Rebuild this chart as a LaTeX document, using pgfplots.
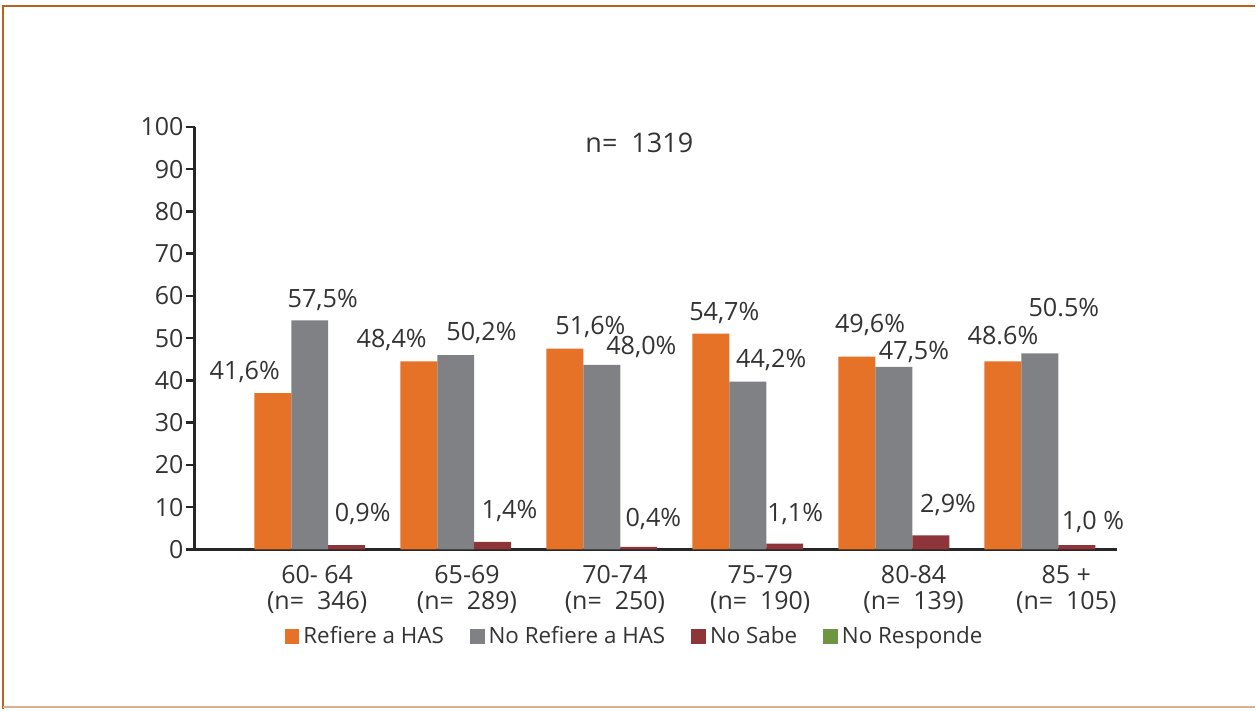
\documentclass[border=0pt]{standalone}
\usepackage{pgfplots}
\pgfplotsset{compat=1.18}
\usepackage{fontspec}
\setmainfont{Open Sans}
\definecolor{cOr}{HTML}{E57226}
\definecolor{cGr}{HTML}{808184}
\definecolor{cRd}{HTML}{8E353A}
\definecolor{cGn}{HTML}{6E9642}
\definecolor{frameC}{HTML}{B5631F}
\definecolor{txt}{HTML}{333333}
\pgfplotsset{sqleg/.style={legend image code/.code={\fill[##1] (0pt,-3.7pt) rectangle (7.4pt,3.7pt);}}}
\begin{document}
\begin{tikzpicture}
\path (0,0) rectangle (628pt,-355pt);
\draw[frameC, line width=1.3pt] (1.6pt,-355pt) -- (1.6pt,-3pt) -- (628pt,-3pt);
\draw[frameC!50, line width=0.8pt] (1.6pt,-354pt) -- (628pt,-354pt);
\begin{axis}[
  at={(97.5pt,-275pt)}, anchor=south west,
  scale only axis, width=461.5pt, height=211.5pt,
  xmin=-0.787, xmax=5.527, ymin=0, ymax=100,
  axis x line=bottom, axis y line=left,
  axis line style={-, line width=1.5pt, color=black!85},
  ybar, bar width=0.253,
  ytick={0,10,...,100},
  ytick style={line width=1.2pt, color=black!85},
  tick align=outside, major tick length=4.5pt,
  yticklabel style={font=\fontsize{12.5}{14}\selectfont, color=txt, inner sep=1pt},
  /pgf/number format/assume math mode=true,
  xtick={0.051,1.077,2.090,3.085,4.135,5.181},
  xtick style={draw=none},
  xticklabels={{60- 64\\(n=\ \ 346)},{65-69\\(n=\ \ 289)},{70-74\\(n=\ \ 250)},{75-79\\(n=\ \ 190)},{80-84\\(n=\ \ 139)},{85 +\\(n=\ \ 105)}},
  xticklabel style={align=center, font=\fontsize{12.5}{13.2}\selectfont, color=txt},
  legend columns=4,
  legend style={draw=none, at={(0.478,-0.206)}, anchor=center,
    font=\fontsize{11.2}{13}\selectfont, text=txt,
    /tikz/every even column/.append style={column sep=11pt}},
  clip=false,
]
\addplot[sqleg, fill=cOr, draw=none, bar shift=-0.253] coordinates {(0,37.0) (1,44.5) (2,47.5) (3,51.1) (4,45.6) (5,44.5)};
\addlegendentry{Refiere a HAS}
\addplot[sqleg, fill=cGr, draw=none, bar shift=0] coordinates {(0,54.2) (1,46.0) (2,43.7) (3,39.7) (4,43.2) (5,46.4)};
\addlegendentry{No Refiere a HAS}
\addplot[sqleg, fill=cRd, draw=none, bar shift=0.253] coordinates {(0,1.0) (1,1.8) (2,0.6) (3,1.4) (4,3.3) (5,1.0)};
\addlegendentry{No Sabe}
\addlegendimage{sqleg, fill=cGn, draw=none}
\addlegendentry{No Responde}
\begin{scope}[font=\fontsize{12.6}{14}\selectfont, text=txt]
\node at (axis cs:-0.445,42.1) {41,6\%};
\node at (axis cs:0.089,59.1) {57,5\%};
\node at (axis cs:0.363,8.3) {0,9\%};
\node at (axis cs:0.561,49.6) {48,4\%};
\node at (axis cs:1.176,51.3) {50,2\%};
\node at (axis cs:1.368,9.0) {1,4\%};
\node at (axis cs:1.922,52.7) {51,6\%};
\node at (axis cs:2.271,47.8) {48,0\%};
\node at (axis cs:2.353,7.1) {0,4\%};
\node at (axis cs:2.839,56.0) {54,7\%};
\node at (axis cs:3.160,44.9) {44,2\%};
\node at (axis cs:3.324,8.5) {1,1\%};
\node at (axis cs:3.837,53.0) {49,6\%};
\node at (axis cs:4.138,46.8) {47,5\%};
\node at (axis cs:4.371,10.6) {2,9\%};
\node at (axis cs:4.747,50.6) {48.6\%};
\node at (axis cs:5.164,57.2) {50.5\%};
\node at (axis cs:5.363,6.6) {1,0 \%};
\node[font=\fontsize{13.5}{15}\selectfont] at (axis cs:2.257,96.2) {n=\ \ 1319};
\end{scope}
\end{axis}
\end{tikzpicture}
\end{document}
